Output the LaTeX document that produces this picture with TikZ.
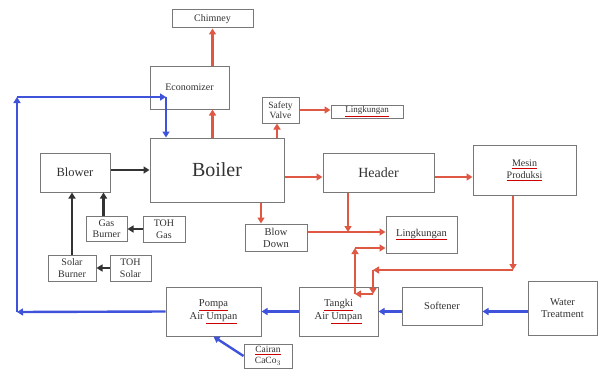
\documentclass[tikz,border=0pt]{standalone}
\usepackage{fontspec}
\setmainfont{Liberation Serif}
\usetikzlibrary{arrows.meta}
\definecolor{lred}{RGB}{222,88,68}
\definecolor{lblue}{RGB}{62,82,218}
\definecolor{lgray}{RGB}{120,120,120}
\definecolor{ltext}{RGB}{50,50,50}
\newcommand\rul[1]{\textcolor{red!80!black}{\underline{\textcolor{ltext}{#1}}}}
\newcommand\fs[2]{\fontsize{#1}{#2}\selectfont}
\tikzset{
  box/.style={draw=lgray, line width=1pt, fill=white, inner sep=0pt, align=center, text=ltext},
  redln/.style={draw=lred, line width=2.4pt, -{Triangle[length=6pt,width=7pt]}},
  blueln/.style={draw=lblue, line width=2.4pt, -{Triangle[length=6pt,width=7pt]}},
  blackln/.style={draw=black!80, line width=2.4pt, -{Triangle[length=6pt,width=7pt]}},
}
\begin{document}
\begin{tikzpicture}[x=1pt,y=-1pt]
\useasboundingbox (0,0) rectangle (599,369);
% boxes
\node[box, minimum width=81pt, minimum height=18pt, font=\fs{10}{11}] (chim) at (212.5,19) {Chimney};
\node[box, minimum width=79pt, minimum height=43pt, font=\fs{10}{11}] (econ) at (189.5,87.5) {Economizer};
\node[box, minimum width=37pt, minimum height=26pt, font=\fs{9.5}{10.5}] (safety) at (280.5,110) {Safety\\Valve};
\node[box, minimum width=72pt, minimum height=13pt, font=\fs{9}{10}] (ling1) at (367,111.5) {\rul{Lingkungan}};
\node[box, minimum width=134pt, minimum height=64pt, font=\fs{20}{22}] (boiler) at (217,170) {Boiler};
\node[box, minimum width=70pt, minimum height=39pt, font=\fs{12.5}{14}] (blower) at (75,172.5) {Blower};
\node[box, minimum width=111pt, minimum height=39pt, font=\fs{14}{15}] (header) at (378.5,172.5) {Header};
\node[box, minimum width=103pt, minimum height=50pt, font=\fs{10}{12}] (mesin) at (524.5,170) {\rul{Mesin}\\\rul{Produksi}};
\node[box, minimum width=41pt, minimum height=25pt, font=\fs{10}{11.5}] (gasb) at (106.5,228.5) {Gas\\Burner};
\node[box, minimum width=42pt, minimum height=26pt, font=\fs{10}{11.5}] (tohgas) at (164,229) {TOH\\Gas};
\node[box, minimum width=48pt, minimum height=26pt, font=\fs{10}{11.5}] (solarb) at (72,268) {Solar\\Burner};
\node[box, minimum width=41pt, minimum height=26pt, font=\fs{10}{11.5}] (tohsolar) at (130.5,268) {TOH\\Solar};
\node[box, minimum width=62pt, minimum height=27pt, font=\fs{10.5}{12}] (blowdown) at (276,237.5) {Blow\\Down};
\node[box, minimum width=71pt, minimum height=37pt, font=\fs{10.5}{12}] (ling2) at (421.5,234.5) {\rul{Lingkungan}};
\node[box, minimum width=95pt, minimum height=49pt, font=\fs{10.5}{13}] (pompa) at (213.5,311.5) {\rul{Pompa}\\Air \rul{Umpan}};
\node[box, minimum width=79pt, minimum height=49pt, font=\fs{10.5}{13}] (tangki) at (338.5,311.5) {\rul{Tangki}\\Air \rul{Umpan}};
\node[box, minimum width=80pt, minimum height=38pt, font=\fs{10.5}{12}] (softener) at (442,306) {Softener};
\node[box, minimum width=69pt, minimum height=54pt, font=\fs{10.5}{12}] (water) at (562.5,308) {Water\\Treatment};
\node[box, minimum width=48pt, minimum height=24pt, font=\fs{9.5}{11}] (cairan) at (268,356) {\rul{Cairan}\\CaCo$_3$};
% junction coordinates
\coordinate (j1) at (348,232);
\coordinate (m1) at (513,270);
\coordinate (m2) at (373,270);
\coordinate (m3) at (373,294);
\coordinate (m4) at (355,294);
\coordinate (m5) at (355,248);
\coordinate (b0) at (17,312);
\coordinate (b1) at (17,97);
\coordinate (b2) at (166,97);
\coordinate (bd) at (261,0);
% red connectors
\draw[redln] (boiler.north -| chim.south) -- (econ.south -| chim.south);
\draw[redln] (econ.north -| chim.south) -- (chim.south);
\draw[redln] ([xshift=-3.5pt]boiler.north -| safety.south) -- ([xshift=-3.5pt]safety.south);
\draw[redln] (safety.east) -- (safety.east -| ling1.west);
\draw[redln] (boiler.east |- 0,177) -- (header.west |- 0,177);
\draw[redln] (header.east |- 0,177) -- (mesin.west |- 0,177);
\draw[redln] (boiler.south -| bd) -- (blowdown.north -| bd);
\draw[redln] (header.south -| j1) -- (j1);
\draw[redln] (blowdown.east |- j1) -- (ling2.west |- j1);
\draw[redln] (mesin.south -| m1) -- (m1);
\draw[redln] (m1) -- (m2);
\draw[redln] (m2) -- (m3);
\draw[redln] (m3) -- (m4);
\draw[redln] (m4) -- (m5);
\draw[redln] (m5) -- (ling2.west |- m5);
% black connectors
\draw[blackln] (blower.east |- 0,170) -- (boiler.west |- 0,170);
\draw[blackln] (solarb.north) -- (solarb.north |- blower.south);
\draw[blackln] ([xshift=-3pt]gasb.north) -- ([xshift=-3pt]gasb.north |- blower.south);
\draw[blackln] (tohgas.west) -- (tohgas.west -| gasb.east);
\draw[blackln] (tohsolar.west) -- (tohsolar.west -| solarb.east);
% blue connectors
\draw[blueln] (pompa.west) -- (b0);
\draw[blueln] (b0) -- (b1);
\draw[blueln] (b1) -- (b2);
\draw[blueln] (b2) -- (boiler.north -| b2);
\draw[blueln] (tangki.west) -- (pompa.east);
\draw[blueln] (softener.west |- tangki.east) -- (tangki.east);
\draw[blueln] (water.west |- tangki.east) -- (softener.east |- tangki.east);
\draw[blueln] (cairan.west) -- (pompa.south);
\end{tikzpicture}
\end{document}
